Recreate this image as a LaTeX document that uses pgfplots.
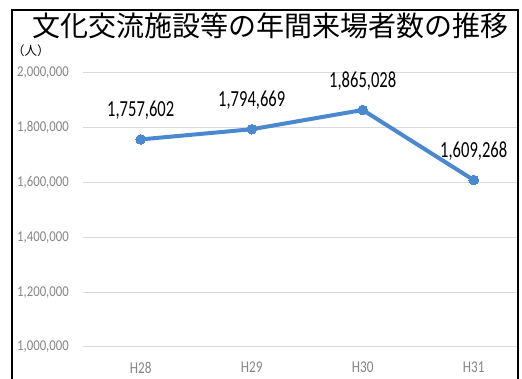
\documentclass[border=0pt]{standalone}
\usepackage{fontspec}
\usepackage{pgfplots}
\pgfplotsset{compat=1.18}
\newfontfamily\cjk{Noto Sans CJK JP}
\newfontfamily\lab[FakeStretch=0.85]{Carlito}
\newfontfamily\labx[FakeStretch=0.8]{Carlito}
\newfontfamily\labd[FakeStretch=0.72]{Carlito}
\definecolor{linec}{HTML}{4A89CF}
\definecolor{tickc}{HTML}{858585}
\definecolor{gridc}{HTML}{D9D9D9}
\begin{document}
\begin{tikzpicture}
\path[use as bounding box] (0,0) rectangle (522pt,379pt);
\draw[line width=2pt] (12pt,-10pt) rectangle (518pt,369pt);
\node[font=\cjk\fontsize{28}{30}\selectfont, anchor=center, inner sep=0pt] at (270pt,353pt) {文化交流施設等の年間来場者数の推移};
\node[font=\cjk\fontsize{12.5}{13}\selectfont, inner sep=0pt] at (31pt,328pt) {（人）};
\begin{axis}[
  at={(83pt,32pt)}, anchor=south west,
  width=434pt, height=274pt, scale only axis,
  xmin=-0.52, xmax=3.39, ymin=1000000, ymax=2000000,
  clip=false,
  scaled y ticks=false,
  axis line style={draw=none},
  major tick length=0pt,
  ymajorgrids, grid style={gridc, line width=1pt},
  ytick={1000000,1200000,1400000,1600000,1800000,2000000},
  yticklabels={{1,000,000},{1,200,000},{1,400,000},{1,600,000},{1,800,000},{2,000,000}},
  xtick={0,1,2,3},
  xticklabels={H28,H29,H30,H31},
  ticklabel style={text=tickc, inner sep=0pt},
  yticklabel style={font=\lab\fontsize{15}{16}\selectfont, anchor=east, xshift=-14pt},
  xticklabel style={font=\labx\fontsize{16.5}{18}\selectfont, anchor=north, yshift=-15pt},
]
\addplot[linec, line width=4pt, mark=*, mark size=4.8pt,
  mark options={fill=linec, draw=linec, line width=0pt},
  nodes near coords, point meta=explicit symbolic,
  nodes near coords style={anchor=center, yshift=29pt, font=\labd\fontsize{23}{25}\selectfont, text=black}]
  coordinates {(0,1757602)[1,757,602] (1,1794669)[1,794,669] (2,1865028)[1,865,028] (3,1609268)[1,609,268]};
\end{axis}
\end{tikzpicture}
\end{document}
